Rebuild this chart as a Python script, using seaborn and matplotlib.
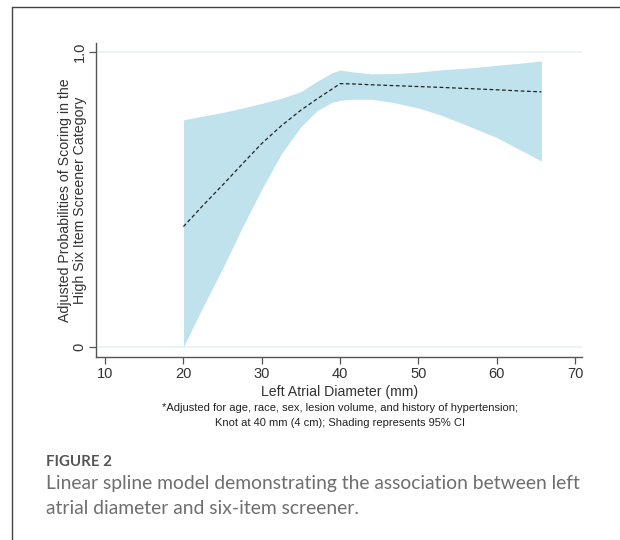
import pandas as pd
import matplotlib
matplotlib.use("Agg")
import matplotlib.pyplot as plt
from matplotlib.lines import Line2D
import seaborn as sns

# --- data ---
diameter = [20, 22.5, 25, 27.5, 30, 32.5, 35, 37, 39, 40, 41.5, 44, 47, 50, 53, 56.5, 60, 63, 65.7]
prob = [0.408, 0.48, 0.549, 0.62, 0.69, 0.75, 0.803, 0.84, 0.875, 0.893, 0.892, 0.889,
        0.886, 0.883, 0.88, 0.876, 0.872, 0.868, 0.865]
ci_low = [0.0, 0.136, 0.266, 0.405, 0.535, 0.655, 0.747, 0.80, 0.830, 0.836, 0.84, 0.84,
          0.828, 0.81, 0.785, 0.748, 0.71, 0.668, 0.63]
ci_high = [0.77, 0.783, 0.795, 0.81, 0.826, 0.843, 0.866, 0.90, 0.93, 0.939, 0.933, 0.926,
           0.927, 0.932, 0.94, 0.946, 0.955, 0.962, 0.97]
x_ticks = [10, 20, 30, 40, 50, 60, 70]
y_ticks = [0, 1.0]
y_tick_labels = ["0", "1.0"]

df = pd.DataFrame({"diameter": diameter, "prob": prob, "low": ci_low, "high": ci_high})

sns.set_theme(style="white")
plt.rcParams["font.family"] = ["Liberation Sans", "DejaVu Sans"]

fig = plt.figure(figsize=(6.2, 5.4), dpi=100)
ax = fig.add_axes([0.155, 0.339, 0.784, 0.581])

# gridlines at 0 and 1
for yv in y_ticks:
    ax.axhline(yv, color="#e6f2f7", lw=1.2, zorder=0)

ax.fill_between(df["diameter"], df["low"], df["high"], color="#bfe2ed", lw=0, zorder=1)
sns.lineplot(data=df, x="diameter", y="prob", ax=ax, color="#222222", lw=0.9,
             linestyle=(0, (3, 2)), zorder=2)

ax.set_xlim(8.85, 70.9)
ax.set_ylim(-0.034, 1.03)
ax.set_xticks(x_ticks)
ax.set_yticks(y_ticks)
ax.set_yticklabels(y_tick_labels, rotation=90, va="center")

for side in ["top", "right"]:
    ax.spines[side].set_visible(False)
for side in ["left", "bottom"]:
    ax.spines[side].set_color("#555555")
    ax.spines[side].set_linewidth(1.0)

ax.tick_params(axis="both", direction="out", length=5, width=0.9, color="#555555",
               labelsize=10.5, labelcolor="#333333", pad=2)
ax.tick_params(axis="x", bottom=True)
ax.tick_params(axis="y", left=True)

ax.set_xlabel("Left Atrial Diameter (mm)", fontsize=10.2, color="#333333", labelpad=3)
ax.set_ylabel("Adjusted Probabilities of Scoring in the\nHigh Six Item Screener Category",
              fontsize=10.2, color="#333333", linespacing=1.1)
ax.yaxis.set_label_coords(-0.0185, 0.5)

fig.text(0.549, 0.245, "*Adjusted for age, race, sex, lesion volume, and history of hypertension;",
         ha="center", va="center", fontsize=8.0, color="#222222")
fig.text(0.549, 0.217, "Knot at 40 mm (4 cm); Shading represents 95% CI",
         ha="center", va="center", fontsize=8.0, color="#222222")

# caption
cap_font = ["Lato", "DejaVu Sans"]
fig.text(0.074, 0.145, "FIGURE 2", ha="left", va="center", fontsize=10.8,
         color="#555555", family=cap_font, weight="bold")
fig.text(0.074, 0.104, "Linear spline model demonstrating the association between left",
         ha="left", va="center", fontsize=13.9, color="#6e6e6e", family=cap_font)
fig.text(0.074, 0.059, "atrial diameter and six-item screener.",
         ha="left", va="center", fontsize=13.9, color="#6e6e6e", family=cap_font)

# page frame (left and top border)
fig.add_artist(Line2D([0.019, 0.019], [0, 0.987], color="#444444", lw=1.0))
fig.add_artist(Line2D([0.019, 1.0], [0.987, 0.987], color="#444444", lw=1.0))

fig.savefig("out.png", dpi=100)
